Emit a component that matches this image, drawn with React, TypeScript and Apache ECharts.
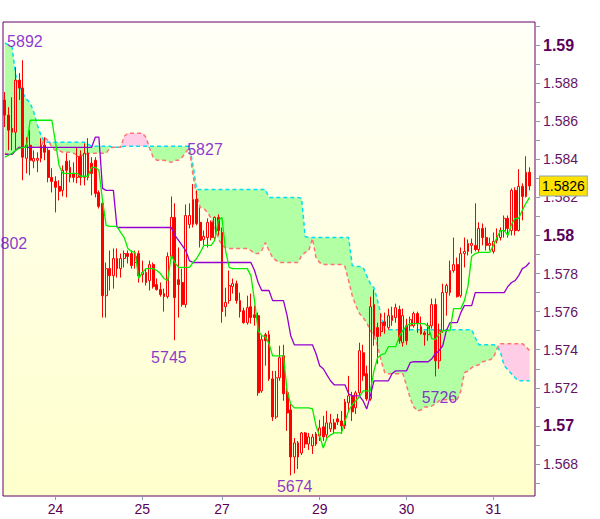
import { useEffect, useRef } from 'react';
import * as echarts from 'echarts';

const barCount = 147;
const dayLabels = ['24', '25', '27', '29', '30', '31'];
const dayStartIndex = [14, 38, 60, 87, 111, 135];

const open = [
  1.58711, 1.58632, 1.58563, 1.58542, 1.58816, 1.58774, 1.58405, 1.58474, 1.58390, 1.58395,
  1.58405, 1.58474, 1.58447, 1.58305, 1.58284, 1.58258, 1.58237, 1.58390, 1.58358, 1.58326,
  1.58305, 1.58416, 1.58305, 1.58432, 1.58379, 1.58395, 1.58226, 1.58169, 1.57684, 1.57826,
  1.57789, 1.57879, 1.57826, 1.57879, 1.57905, 1.57905, 1.57858, 1.57905, 1.57795, 1.57805,
  1.57763, 1.57847, 1.57742, 1.57716, 1.57695, 1.57679, 1.57890, 1.58095, 1.57768, 1.57753,
  1.57637, 1.58058, 1.58058, 1.58190, 1.58069, 1.57979, 1.57989, 1.58069, 1.57989, 1.58095,
  1.58016, 1.57626, 1.57658, 1.57732, 1.57747, 1.57658, 1.57605, 1.57542, 1.57626, 1.57584,
  1.57579, 1.57184, 1.57479, 1.57479, 1.57247, 1.57047, 1.57253, 1.57368, 1.57174, 1.57084,
  1.56837, 1.56911, 1.56858, 1.56963, 1.56905, 1.56895, 1.56958, 1.56947, 1.56995, 1.56953,
  1.56984, 1.57016, 1.57037, 1.57026, 1.57000, 1.57121, 1.57158, 1.57095, 1.57174, 1.57384,
  1.57274, 1.57142, 1.57637, 1.57516, 1.57495, 1.57547, 1.57516, 1.57553, 1.57569, 1.57611,
  1.57437, 1.57526, 1.57526, 1.57526, 1.57590, 1.57521, 1.57489, 1.57479, 1.57526, 1.57637,
  1.57342, 1.57500, 1.57700, 1.57700, 1.57816, 1.57847, 1.57684, 1.57905, 1.57916, 1.57948,
  1.57948, 1.57926, 1.58037, 1.57989, 1.57948, 1.57916, 1.57974, 1.57989, 1.58026, 1.58090,
  1.58026, 1.58237, 1.58026, 1.58258, 1.58205, 1.58332,
];

const close = [
  1.58632, 1.58553, 1.58542, 1.58816, 1.58774, 1.58411, 1.58474, 1.58395, 1.58405, 1.58405,
  1.58474, 1.58437, 1.58305, 1.58284, 1.58253, 1.58232, 1.58342, 1.58342, 1.58305, 1.58305,
  1.58416, 1.58305, 1.58432, 1.58305, 1.58326, 1.58221, 1.58153, 1.57684, 1.57826, 1.57789,
  1.57879, 1.57826, 1.57879, 1.57905, 1.57890, 1.57842, 1.57890, 1.57789, 1.57805, 1.57753,
  1.57847, 1.57732, 1.57716, 1.57690, 1.57679, 1.57890, 1.58095, 1.57674, 1.57742, 1.57637,
  1.58105, 1.58105, 1.58190, 1.58063, 1.57974, 1.57995, 1.58069, 1.57989, 1.58095, 1.58026,
  1.57600, 1.57648, 1.57737, 1.57747, 1.57658, 1.57600, 1.57542, 1.57621, 1.57569, 1.57569,
  1.57174, 1.57453, 1.57447, 1.57247, 1.57047, 1.57253, 1.57358, 1.57169, 1.57068, 1.56837,
  1.56911, 1.56837, 1.56963, 1.56905, 1.56942, 1.56942, 1.56905, 1.56989, 1.56942, 1.57016,
  1.57016, 1.56984, 1.57021, 1.57000, 1.57126, 1.57158, 1.57074, 1.57174, 1.57395, 1.57263,
  1.57142, 1.57626, 1.57474, 1.57469, 1.57542, 1.57526, 1.57579, 1.57579, 1.57621, 1.57447,
  1.57579, 1.57447, 1.57558, 1.57590, 1.57537, 1.57484, 1.57479, 1.57526, 1.57637, 1.57342,
  1.57500, 1.57700, 1.57737, 1.57816, 1.57847, 1.57679, 1.57905, 1.57916, 1.57958, 1.57958,
  1.57926, 1.58037, 1.57989, 1.57948, 1.57958, 1.57969, 1.58000, 1.58026, 1.58090, 1.58037,
  1.58237, 1.58026, 1.58258, 1.58205, 1.58332, 1.58260,
];

const low = [
  1.58569, 1.58447, 1.58447, 1.58447, 1.58711, 1.58290, 1.58326, 1.58316, 1.58353, 1.58332,
  1.58384, 1.58395, 1.58279, 1.58226, 1.58121, 1.58184, 1.58205, 1.58200, 1.58279, 1.58279,
  1.58274, 1.58263, 1.58263, 1.58290, 1.58211, 1.58200, 1.58142, 1.57569, 1.57569, 1.57711,
  1.57721, 1.57779, 1.57779, 1.57832, 1.57853, 1.57826, 1.57826, 1.57753, 1.57753, 1.57737,
  1.57711, 1.57721, 1.57711, 1.57679, 1.57600, 1.57669, 1.57879, 1.57450, 1.57569, 1.57626,
  1.57621, 1.58037, 1.58042, 1.58053, 1.57937, 1.57948, 1.57937, 1.57974, 1.57974, 1.58000,
  1.57542, 1.57574, 1.57642, 1.57695, 1.57642, 1.57569, 1.57537, 1.57532, 1.57537, 1.57526,
  1.57158, 1.57174, 1.57316, 1.57237, 1.57026, 1.57037, 1.57237, 1.57132, 1.56974, 1.56740,
  1.56750, 1.56774, 1.56847, 1.56884, 1.56874, 1.56853, 1.56895, 1.56921, 1.56921, 1.56937,
  1.56968, 1.56963, 1.57005, 1.56958, 1.56984, 1.57079, 1.57026, 1.57063, 1.57158, 1.57237,
  1.57132, 1.57132, 1.57421, 1.57326, 1.57469, 1.57484, 1.57505, 1.57526, 1.57542, 1.57432,
  1.57416, 1.57426, 1.57500, 1.57516, 1.57489, 1.57479, 1.57421, 1.57447, 1.57511, 1.57260,
  1.57300, 1.57489, 1.57579, 1.57684, 1.57805, 1.57674, 1.57674, 1.57832, 1.57895, 1.57905,
  1.57916, 1.57911, 1.57948, 1.57921, 1.57921, 1.57905, 1.57958, 1.57974, 1.57989, 1.57989,
  1.58000, 1.58000, 1.58021, 1.58079, 1.58200, 1.58237,
];

const high = [
  1.58753, 1.58674, 1.58726, 1.58884, 1.58853, 1.58920, 1.58516, 1.58553, 1.58447, 1.58437,
  1.58511, 1.58516, 1.58458, 1.58353, 1.58311, 1.58290, 1.58368, 1.58432, 1.58395, 1.58384,
  1.58463, 1.58447, 1.58484, 1.58511, 1.58411, 1.58411, 1.58237, 1.58184, 1.57858, 1.57921,
  1.57932, 1.57932, 1.57905, 1.57921, 1.57921, 1.57921, 1.57921, 1.57921, 1.57868, 1.57826,
  1.57868, 1.57858, 1.57774, 1.57753, 1.57721, 1.57911, 1.58205, 1.58169, 1.57937, 1.57826,
  1.58163, 1.58169, 1.58270, 1.58237, 1.58147, 1.58026, 1.58090, 1.58079, 1.58100, 1.58111,
  1.58042, 1.57726, 1.57816, 1.57774, 1.57763, 1.57700, 1.57621, 1.57684, 1.57695, 1.57632,
  1.57595, 1.57474, 1.57489, 1.57500, 1.57289, 1.57289, 1.57421, 1.57426, 1.57200, 1.57121,
  1.56937, 1.56921, 1.56968, 1.56968, 1.56963, 1.56958, 1.56968, 1.57032, 1.57053, 1.57079,
  1.57063, 1.57037, 1.57063, 1.57079, 1.57142, 1.57263, 1.57179, 1.57184, 1.57437, 1.57426,
  1.57316, 1.57679, 1.57716, 1.57542, 1.57590, 1.57595, 1.57616, 1.57626, 1.57642, 1.57632,
  1.57616, 1.57563, 1.57574, 1.57600, 1.57600, 1.57574, 1.57500, 1.57542, 1.57669, 1.57669,
  1.57537, 1.57747, 1.57747, 1.57868, 1.57989, 1.57884, 1.57937, 1.57989, 1.57979, 1.57984,
  1.58169, 1.58069, 1.58063, 1.58042, 1.57989, 1.58016, 1.58037, 1.58042, 1.58105, 1.58105,
  1.58247, 1.58253, 1.58348, 1.58274, 1.58416, 1.58358,
];

const tenkan = [
  1.58411, 1.58421, 1.58432, 1.58447, 1.58458, 1.58463, 1.58463, 1.58605, 1.58605, 1.58605,
  1.58605, 1.58605, 1.58605, 1.58605, 1.58490, 1.58368, 1.58326, 1.58326, 1.58326, 1.58326,
  1.58326, 1.58311, 1.58311, 1.58311, 1.58358, 1.58358, 1.58342, 1.58184, 1.58053, 1.58048,
  1.58048, 1.58048, 1.58016, 1.57989, 1.57932, 1.57916, 1.57911, 1.57774, 1.57805, 1.57826,
  1.57826, 1.57826, 1.57816, 1.57800, 1.57774, 1.57763, 1.57895, 1.57858, 1.57832, 1.57832,
  1.57832, 1.57832, 1.57858, 1.57879, 1.57911, 1.57948, 1.57948, 1.57948, 1.57974, 1.58079,
  1.58095, 1.57921, 1.57832, 1.57826, 1.57826, 1.57826, 1.57826, 1.57826, 1.57789, 1.57658,
  1.57500, 1.57474, 1.57469, 1.57432, 1.57368, 1.57368, 1.57368, 1.57368, 1.57184, 1.57116,
  1.57095, 1.57095, 1.57095, 1.57095, 1.57095, 1.57089, 1.57000, 1.56947, 1.56884, 1.56937,
  1.56953, 1.56963, 1.56963, 1.56963, 1.57026, 1.57079, 1.57111, 1.57132, 1.57153, 1.57184,
  1.57184, 1.57184, 1.57289, 1.57358, 1.57374, 1.57379, 1.57416, 1.57416, 1.57416, 1.57469,
  1.57500, 1.57526, 1.57537, 1.57537, 1.57537, 1.57537, 1.57537, 1.57521, 1.57458, 1.57453,
  1.57484, 1.57500, 1.57500, 1.57500, 1.57616, 1.57616, 1.57616, 1.57658, 1.57737, 1.57890,
  1.57905, 1.57911, 1.57911, 1.57911, 1.57911, 1.57948, 1.57989, 1.58026, 1.58026, 1.58000,
  1.58058, 1.58090, 1.58090, 1.58132, 1.58169, 1.58200,
];

const kijun = [
  1.58426, 1.58426, 1.58426, 1.58447, 1.58463, 1.58463, 1.58463, 1.58463, 1.58463, 1.58463,
  1.58463, 1.58463, 1.58463, 1.58463, 1.58463, 1.58463, 1.58463, 1.58463, 1.58463, 1.58463,
  1.58463, 1.58463, 1.58463, 1.58463, 1.58463, 1.58516, 1.58516, 1.58247, 1.58237, 1.58237,
  1.58237, 1.58042, 1.58042, 1.58042, 1.58042, 1.58042, 1.58042, 1.58042, 1.58042, 1.58042,
  1.58042, 1.58042, 1.58042, 1.58042, 1.58042, 1.58042, 1.58042, 1.58000, 1.57974, 1.57948,
  1.57921, 1.57868, 1.57858, 1.57858, 1.57858, 1.57858, 1.57858, 1.57858, 1.57858, 1.57858,
  1.57858, 1.57858, 1.57858, 1.57858, 1.57858, 1.57858, 1.57858, 1.57858, 1.57858, 1.57816,
  1.57753, 1.57711, 1.57711, 1.57711, 1.57658, 1.57658, 1.57658, 1.57658, 1.57579, 1.57474,
  1.57426, 1.57426, 1.57426, 1.57426, 1.57426, 1.57426, 1.57379, 1.57316, 1.57300, 1.57268,
  1.57237, 1.57216, 1.57216, 1.57216, 1.57216, 1.57169, 1.57158, 1.57158, 1.57158, 1.57132,
  1.57089, 1.57158, 1.57237, 1.57237, 1.57237, 1.57237, 1.57237, 1.57274, 1.57289, 1.57289,
  1.57289, 1.57289, 1.57332, 1.57337, 1.57337, 1.57337, 1.57337, 1.57337, 1.57353, 1.57379,
  1.57395, 1.57421, 1.57500, 1.57542, 1.57542, 1.57542, 1.57595, 1.57632, 1.57632, 1.57632,
  1.57700, 1.57700, 1.57700, 1.57700, 1.57700, 1.57700, 1.57700, 1.57700, 1.57700, 1.57732,
  1.57753, 1.57763, 1.57789, 1.57826, 1.57837, 1.57858,
];

const senkouA = [
  1.59011, 1.59000, 1.58989, 1.58842, 1.58790, 1.58747, 1.58716, 1.58695, 1.58648, 1.58579,
  1.58526, 1.58490, 1.58490, 1.58490, 1.58490, 1.58490, 1.58490, 1.58490, 1.58490, 1.58490,
  1.58490, 1.58490, 1.58490, 1.58479, 1.58469, 1.58469, 1.58469, 1.58469, 1.58469, 1.58469,
  1.58463, 1.58463, 1.58463, 1.58469, 1.58469, 1.58469, 1.58469, 1.58469, 1.58469, 1.58469,
  1.58469, 1.58469, 1.58469, 1.58469, 1.58469, 1.58469, 1.58469, 1.58469, 1.58469, 1.58469,
  1.58469, 1.58469, 1.58368, 1.58242, 1.58242, 1.58242, 1.58242, 1.58242, 1.58242, 1.58242,
  1.58242, 1.58242, 1.58242, 1.58242, 1.58242, 1.58242, 1.58242, 1.58242, 1.58242, 1.58242,
  1.58242, 1.58242, 1.58242, 1.58200, 1.58200, 1.58200, 1.58200, 1.58200, 1.58200, 1.58200,
  1.58200, 1.58200, 1.58195, 1.57995, 1.57989, 1.57989, 1.57989, 1.57989, 1.57989, 1.57989,
  1.57989, 1.57989, 1.57989, 1.57989, 1.57989, 1.57989, 1.57842, 1.57837, 1.57837, 1.57832,
  1.57789, 1.57747, 1.57726, 1.57658, 1.57579, 1.57505, 1.57505, 1.57505, 1.57505, 1.57505,
  1.57505, 1.57505, 1.57505, 1.57505, 1.57505, 1.57505, 1.57505, 1.57505, 1.57505, 1.57505,
  1.57505, 1.57505, 1.57505, 1.57505, 1.57505, 1.57505, 1.57505, 1.57505, 1.57505, 1.57505,
  1.57463, 1.57426, 1.57426, 1.57426, 1.57426, 1.57426, 1.57421, 1.57384, 1.57316, 1.57295,
  1.57274, 1.57253, 1.57237, 1.57237, 1.57237, 1.57237,
];

const senkouB = [
  1.58432, 1.58426, 1.58426, 1.58447, 1.58463, 1.58463, 1.58463, 1.58463, 1.58463, 1.58463,
  1.58463, 1.58511, 1.58500, 1.58463, 1.58447, 1.58447, 1.58437, 1.58437, 1.58437, 1.58432,
  1.58421, 1.58421, 1.58421, 1.58432, 1.58432, 1.58432, 1.58432, 1.58432, 1.58432, 1.58458,
  1.58463, 1.58463, 1.58463, 1.58521, 1.58537, 1.58537, 1.58537, 1.58537, 1.58537, 1.58516,
  1.58458, 1.58411, 1.58395, 1.58395, 1.58395, 1.58390, 1.58384, 1.58395, 1.58395, 1.58411,
  1.58437, 1.58458, 1.58316, 1.58211, 1.58147, 1.58142, 1.58121, 1.58090, 1.58048, 1.57984,
  1.57948, 1.57937, 1.57932, 1.57932, 1.57932, 1.57932, 1.57932, 1.57932, 1.57921, 1.57905,
  1.57905, 1.57921, 1.57963, 1.57921, 1.57884, 1.57868, 1.57858, 1.57858, 1.57858, 1.57858,
  1.57858, 1.57858, 1.57895, 1.57911, 1.57921, 1.57984, 1.57884, 1.57858, 1.57847, 1.57847,
  1.57847, 1.57847, 1.57847, 1.57847, 1.57837, 1.57763, 1.57684, 1.57632, 1.57590, 1.57569,
  1.57542, 1.57500, 1.57474, 1.57421, 1.57342, 1.57279, 1.57274, 1.57274, 1.57274, 1.57274,
  1.57274, 1.57211, 1.57147, 1.57100, 1.57079, 1.57084, 1.57100, 1.57100, 1.57105, 1.57116,
  1.57132, 1.57137, 1.57137, 1.57137, 1.57137, 1.57137, 1.57184, 1.57279, 1.57289, 1.57306,
  1.57316, 1.57321, 1.57337, 1.57342, 1.57347, 1.57358, 1.57405, 1.57432, 1.57432, 1.57432,
  1.57432, 1.57432, 1.57432, 1.57432, 1.57416, 1.57395,
];

const yMin = 1.56632;
const yMax = 1.59121;
const yTickValues = [
  1.567, 1.568, 1.569, 1.57, 1.571, 1.572, 1.573, 1.574, 1.575, 1.576, 1.577, 1.578, 1.579,
  1.58, 1.581, 1.582, 1.583, 1.584, 1.585, 1.586, 1.587, 1.588, 1.589, 1.59, 1.591,
];
const yLabelValues = [1.568, 1.57, 1.572, 1.574, 1.576, 1.578, 1.58, 1.582, 1.584, 1.586, 1.588, 1.59];
const lastPrice = 1.5826;

const pivotTexts = ['5892', '5827', '5802', '5745', '5674', '5726'];
const pivotIndex = [5, 52, 1, 47, 79, 119];
const pivotPrice = [1.5892, 1.5827, 1.5802, 1.5745, 1.5674, 1.5726];
const pivotOffset = [[2, -19], [12, -35], [1, 12], [-6, 17], [4, 11], [4, 21]];

const FONT = '"Liberation Sans", Arial, sans-serif';

export default function App() {
  const ref = useRef<HTMLDivElement>(null);

  useEffect(() => {
    if (!ref.current) return;
    const chart = echarts.init(ref.current, undefined, { renderer: 'svg' });

    const categories = Array.from({ length: barCount }, (_, i) => 'bar' + i);
    const candles = open.map((o, i) => [o, close[i], low[i], high[i]]);
    const cloudBase = senkouA.map((a, i) => Math.min(a, senkouB[i]));
    const cloudUp = senkouA.map((a, i) => Math.max(a - senkouB[i], 0));
    const cloudDown = senkouB.map((b, i) => Math.max(b - senkouA[i], 0));
    const isDay = (i: number) => dayStartIndex.indexOf(i) >= 0;

    const pivots = pivotTexts.map((t, k) => ({
      value: [pivotIndex[k], pivotPrice[k]],
      name: t,
      label: { offset: pivotOffset[k] },
    }));

    const hidden = { width: 0, opacity: 0 };

    chart.setOption({
      animation: false,
      grid: {
        left: 3,
        right: 65,
        top: 22,
        bottom: 23,
        show: true,
        borderColor: '#660066',
        borderWidth: 1,
        backgroundColor: new echarts.graphic.LinearGradient(0, 0, 0, 1, [
          { offset: 0, color: '#fffff7' },
          { offset: 1, color: '#ffffcc' },
        ]),
      },
      xAxis: {
        type: 'category',
        data: categories,
        boundaryGap: true,
        axisLine: { show: false },
        splitLine: { show: false },
        axisTick: {
          show: true,
          alignWithLabel: true,
          length: 4,
          interval: (i: number) => isDay(i),
          lineStyle: { color: '#8c9bb0' },
        },
        axisLabel: {
          interval: (i: number) => isDay(i),
          formatter: (_v: string, i: number) => {
            const k = dayStartIndex.indexOf(i);
            return k >= 0 ? dayLabels[k] : '';
          },
          margin: 6,
          fontSize: 14,
          color: '#5a005a',
          fontFamily: FONT,
        },
      },
      yAxis: {
        type: 'value',
        position: 'right',
        min: yMin,
        max: yMax,
        scale: true,
        splitLine: { show: false },
        axisLine: { show: false },
        axisTick: {
          show: true,
          length: 5,
          customValues: yTickValues,
          lineStyle: { color: '#8c9bb0' },
        },
        axisLabel: {
          customValues: yLabelValues,
          margin: 8,
          formatter: (v: number) => {
            const k = Math.round(v * 1000);
            const s = (k / 1000).toFixed(3).replace(/0+$/, '');
            return k % 10 === 0 ? '{b|' + s + '}' : '{n|' + s + '}';
          },
          rich: {
            b: { fontFamily: FONT, fontWeight: 'bold', fontSize: 16, color: '#5a005a' },
            n: { fontFamily: FONT, fontSize: 14, color: '#641464' },
          },
        },
      },
      series: [
        {
          type: 'line', stack: 'cloud', data: cloudBase, symbol: 'none',
          lineStyle: hidden, silent: true, z: 1,
        },
        {
          type: 'line', stack: 'cloud', data: cloudUp, symbol: 'none', z: 1,
          lineStyle: hidden, areaStyle: { color: '#b2ffa4', opacity: 1 }, silent: true,
        },
        {
          type: 'line', stack: 'cloud', data: cloudDown, symbol: 'none', z: 1,
          lineStyle: hidden, areaStyle: { color: '#ffcde6', opacity: 1 }, silent: true,
        },
        {
          type: 'line', data: senkouA, symbol: 'none', z: 2,
          lineStyle: { color: '#00e0f0', width: 1.5, type: [4, 3] },
        },
        {
          type: 'line', data: senkouB, symbol: 'none', z: 2,
          lineStyle: { color: '#ff7474', width: 1.5, type: [4, 3] },
        },
        {
          type: 'candlestick',
          data: candles,
          barWidth: 2.4,
          z: 3,
          itemStyle: {
            color: 'rgba(0,0,0,0)',
            color0: '#ff0000',
            borderColor: '#ff0000',
            borderColor0: '#ff0000',
            borderWidth: 1,
          },
        },
        {
          type: 'line', data: kijun, symbol: 'none', z: 4,
          lineStyle: { color: '#9400d3', width: 1.3 },
        },
        {
          type: 'line', data: tenkan, symbol: 'none', z: 4,
          lineStyle: { color: '#00ee00', width: 1.3 },
          markLine: {
            silent: true,
            precision: 4,
            symbol: ['none', 'none'],
            lineStyle: { color: 'rgba(0,0,0,0)', width: 1, type: 'solid' },
            data: [{ yAxis: lastPrice }],
            label: {
              show: true,
              position: 'end',
              distance: 5,
              formatter: lastPrice.toFixed(4),
              color: '#000000',
              fontSize: 14,
              fontFamily: FONT,
              backgroundColor: '#ffe200',
              borderColor: '#8fa3b8',
              borderWidth: 1,
              padding: [3, 2, 2, 2],
            },
          },
        },
        {
          type: 'scatter',
          data: pivots,
          symbolSize: 1,
          z: 10,
          itemStyle: { color: 'rgba(0,0,0,0)' },
          label: {
            show: true,
            position: 'inside',
            formatter: '{b}',
            color: '#7000c8',
            fontSize: 16,
            fontFamily: FONT,
          },
        },
      ],
    });

    return () => chart.dispose();
  }, []);

  return (
    <div
      ref={ref}
      style={{ position: 'fixed', left: 0, top: 0, width: 600, height: 519, background: '#ffffff' }}
    />
  );
}
